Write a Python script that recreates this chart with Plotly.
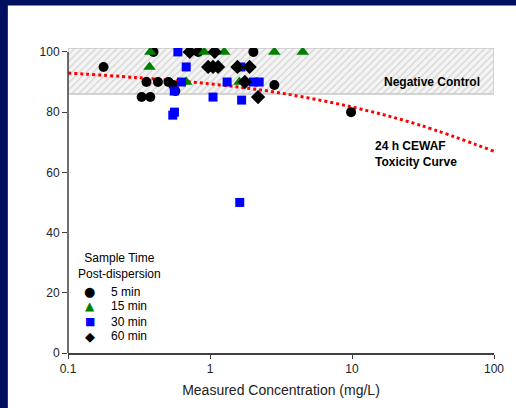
import plotly.graph_objects as go

# ---- data ----
circle_x = [0.178, 0.33, 0.38, 0.357, 0.43, 0.51, 0.55, 0.57, 0.40, 0.826, 2.02, 2.84, 9.85]
circle_y = [95, 85, 85, 90, 90, 90, 89, 87, 100, 100, 100, 89, 80]

tri_x = [0.38, 0.375, 0.68, 0.91, 1.26, 1.61, 2.84, 4.5]
tri_y = [100, 95, 90, 100, 100, 90, 100, 100]

sq_x = [0.594, 0.68, 0.63, 0.56, 0.562, 0.547, 1.05, 1.32, 1.67, 1.65, 2.02, 2.22, 1.62]
sq_y = [100, 95, 90, 87, 80, 79, 85, 90, 84, 95, 90, 90, 50]

dia_x = [0.72, 1.08, 0.97, 1.05, 1.14, 1.56, 1.9, 1.76, 2.18]
dia_y = [100, 100, 95, 95, 95, 95, 95, 90, 85]

curve_x = [0.1, 0.3, 1, 3, 10, 30, 100]
curve_y = [93.0, 91.5, 89.4, 86.5, 81.7, 75.7, 67.0]

neg_ctrl_x = [0.1, 100, 100, 0.1, 0.1]
neg_ctrl_y = [86, 86, 101.3, 101.3, 86]

series_names = ["5 min", "15 min", "30 min", "60 min"]
series_glyphs = ["\u25CF", "\u25B2", "\u25A0", "\u25C6"]
series_colors = ["black", "#008000", "#0000ff", "black"]
x_ticks = [0.1, 1, 10, 100]
x_tick_text = ["0.1", "1", "10", "100"]
y_ticks = [0, 20, 40, 60, 80, 100]

FONT = "Liberation Sans, Arial, sans-serif"
NAVY = "#000e5f"

fig = go.Figure()

fig.add_trace(go.Scatter(
    x=neg_ctrl_x, y=neg_ctrl_y, mode="lines", fill="toself",
    line=dict(color="#c8c8c8", width=1.5),
    fillcolor="#f4f4f4",
    fillpattern=dict(shape="/", fgcolor="#b4b4b4", bgcolor="#f4f4f4", size=5, solidity=0.25),
    showlegend=False, hoverinfo="skip"))

fig.add_trace(go.Scatter(
    x=curve_x, y=curve_y, mode="lines",
    line=dict(color="#ff0000", width=3, dash="3px,3px", shape="spline"),
    showlegend=False, hoverinfo="skip"))

fig.add_trace(go.Scatter(x=circle_x, y=circle_y, mode="markers", name=series_names[0],
                         marker=dict(symbol="circle", size=10, color="black")))
fig.add_trace(go.Scatter(x=tri_x, y=tri_y, mode="markers", name=series_names[1],
                         marker=dict(symbol="triangle-up", size=11, color="#008000")))
fig.add_trace(go.Scatter(x=sq_x, y=sq_y, mode="markers", name=series_names[2],
                         marker=dict(symbol="square", size=9, color="#0000ff")))
fig.add_trace(go.Scatter(x=dia_x, y=dia_y, mode="markers", name=series_names[3],
                         marker=dict(symbol="diamond", size=11, color="black")))

L, R, T, B = 68, 16, 48, 52
W, H = 516, 408
pw, ph = W - L - R, H - T - B

def px_x(p):
    return (p - L) / pw

def px_y(p):
    return (H - B - p) / ph

shapes = [
    # white slide area over the navy page background
    dict(type="rect", xref="paper", yref="paper", x0=px_x(7), x1=px_x(W + 20), y0=px_y(H + 20), y1=px_y(5),
         fillcolor="white", line=dict(width=0), layer="below"),
    dict(type="line", xref="paper", yref="y", x0=0, x1=0, y0=0, y1=100,
         line=dict(color="#404040", width=1.5)),
]

annotations = [
    dict(text="<b>Negative Control</b>", xref="paper", yref="y", x=px_x(488), y=90,
         xanchor="right", yanchor="middle", showarrow=False, font=dict(family=FONT, size=12, color="black")),
    dict(text="<b>24 h CEWAF<br>Toxicity Curve</b>", xref="paper", yref="y", x=px_x(377), y=66,
         xanchor="left", yanchor="middle", align="left", showarrow=False,
         font=dict(family=FONT, size=12, color="black")),
    dict(text="Sample Time<br>Post-dispersion", xref="paper", yref="paper", x=px_x(120.5), y=px_y(268),
         xanchor="center", yanchor="middle", align="center", showarrow=False,
         font=dict(family=FONT, size=12, color="black")),
]

legend_rows = [294, 309, 324.5, 339]
glyph_sizes = [13, 12, 11, 13]
for name, glyph, col, row, gs in zip(series_names, series_glyphs, series_colors, legend_rows, glyph_sizes):
    annotations.append(dict(text=glyph, xref="paper", yref="paper", x=px_x(90), y=px_y(row),
                            xanchor="center", yanchor="middle", showarrow=False,
                            font=dict(family="DejaVu Sans", size=gs, color=col)))
    annotations.append(dict(text=name, xref="paper", yref="paper", x=px_x(110), y=px_y(row),
                            xanchor="left", yanchor="middle", showarrow=False,
                            font=dict(family=FONT, size=12, color="black")))

fig.update_layout(
    width=W, height=H, autosize=False,
    margin=dict(l=L, r=R, t=T, b=B),
    paper_bgcolor=NAVY, plot_bgcolor="white",
    font=dict(family=FONT, size=12, color="#222"),
    shapes=shapes, annotations=annotations,
    showlegend=False,
    xaxis=dict(type="log", range=[-1, 2], tickvals=x_ticks, ticktext=x_tick_text,
               showline=True, linecolor="#404040", linewidth=1.5, ticks="outside", ticklen=4,
               tickcolor="#404040", showgrid=False, zeroline=False,
               title=dict(text="Measured Concentration (mg/L)", font=dict(family=FONT, size=14, color="#222"),
                          standoff=10)),
    yaxis=dict(range=[0, 101.3], tickvals=y_ticks, showline=False, ticks="outside", ticklen=5,
               tickcolor="#404040", showgrid=False, zeroline=False),
)

fig.write_html("out.html")
